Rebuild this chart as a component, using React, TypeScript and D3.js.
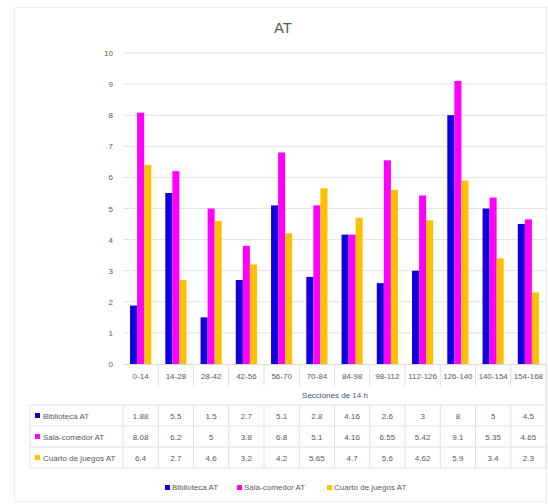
import React from "react";
import * as d3 from "d3";

const categories = ["0-14", "14-28", "28-42", "42-56", "56-70", "70-84", "84-98", "98-112", "112-126", "126-140", "140-154", "154-168"];
const biblioteca = [1.88, 5.5, 1.5, 2.7, 5.1, 2.8, 4.16, 2.6, 3, 8, 5, 4.5];
const salaComedor = [8.08, 6.2, 5, 3.8, 6.8, 5.1, 4.16, 6.55, 5.42, 9.1, 5.35, 4.65];
const cuartoJuegos = [6.4, 2.7, 4.6, 3.2, 4.2, 5.65, 4.7, 5.6, 4.62, 5.9, 3.4, 2.3];
const seriesNames = ["Biblioteca AT", "Sala-comedor AT", "Cuarto de juegos AT"];
const seriesColors = ["#1000DC", "#FF00FF", "#FFC000"];
const yTicks = [0, 1, 2, 3, 4, 5, 6, 7, 8, 9, 10];
const chartTitle = "AT";
const axisTitle = "Secciones de 14 h";

const W = 548;
const H = 504;
const FONT = "'Liberation Sans Narrow', 'Arial Narrow', 'Liberation Sans', sans-serif";
const TXT = "#595959";

export default function App() {
  const series = [biblioteca, salaComedor, cuartoJuegos];
  const x0 = 123, x1 = 546;
  const x = d3.scaleBand<string>().domain(categories).range([x0, x1]).paddingInner(0.4).paddingOuter(0.2);
  const band = d3.scaleBand<string>().domain(categories).range([x0, x1]);
  const inner = d3.scaleBand<number>().domain([0, 1, 2]).range([0, x.bandwidth()]);
  const y = d3.scaleLinear().domain([0, 10]).range([364, 53]);

  const tableTop = 405;
  const rowH = 21;
  const tableLeft = 30;

  return (
    <svg width={W} height={H} style={{ position: "absolute", left: 0, top: 0, background: "#fff" }} fontFamily={FONT}>
      <rect x={14.5} y={7.5} width={532} height={494} fill="#fff" stroke="#ececec" />
      <text x={283} y={33} textAnchor="middle" fontSize={15} fill={TXT}>{chartTitle}</text>

      {yTicks.map((t) => (
        <g key={t}>
          {t > 0 && <line x1={x0} x2={x1} y1={y(t)} y2={y(t)} stroke="#e3e3e3" />}
          <text x={113} y={y(t) + 3} textAnchor="end" fontSize={8} fill={TXT}>{t}</text>
        </g>
      ))}

      {series.map((vals, si) =>
        vals.map((v, ci) => (
          <rect
            key={`${si}-${ci}`}
            x={(x(categories[ci]) ?? 0) + (inner(si) ?? 0)}
            y={y(v)}
            width={inner.bandwidth()}
            height={y(0) - y(v)}
            fill={seriesColors[si]}
          />
        ))
      )}

      <line x1={x0} x2={x1} y1={y(0) + 0.5} y2={y(0) + 0.5} stroke="#d9d9d9" />

      {/* category row and column separators */}
      {categories.map((c, i) => (
        <g key={c}>
          <text x={(band(c) ?? 0) + band.bandwidth() / 2} y={379} textAnchor="middle" fontSize={8} fill={TXT}>{c}</text>
          {i > 0 && <line x1={band(c)} x2={band(c)} y1={364} y2={386} stroke="#e0e0e0" />}
          <line x1={band(c)} x2={band(c)} y1={tableTop} y2={tableTop + rowH * 3} stroke="#e0e0e0" />
        </g>
      ))}
      <line x1={x1} x2={x1} y1={364} y2={tableTop + rowH * 3} stroke="#e0e0e0" />
      <text x={335} y={398} textAnchor="middle" fontSize={8} fill="#44546A">{axisTitle}</text>

      {[0, 1, 2, 3].map((r) => (
        <line key={r} x1={tableLeft} x2={x1} y1={tableTop + r * rowH} y2={tableTop + r * rowH} stroke="#e0e0e0" />
      ))}
      <line x1={tableLeft} x2={tableLeft} y1={tableTop} y2={tableTop + rowH * 3} stroke="#e0e0e0" />

      {series.map((vals, si) => (
        <g key={si}>
          <rect x={35} y={tableTop + si * rowH + 8} width={5} height={5} fill={seriesColors[si]} />
          <text x={43} y={tableTop + si * rowH + 14} fontSize={8} fill={TXT}>{seriesNames[si]}</text>
          {vals.map((v, ci) => (
            <text key={ci} x={(band(categories[ci]) ?? 0) + band.bandwidth() / 2} y={tableTop + si * rowH + 14} textAnchor="middle" fontSize={8} fill={TXT}>
              {v}
            </text>
          ))}
        </g>
      ))}

      {/* legend */}
      {[165, 237, 327].map((lx, si) => (
        <g key={si}>
          <rect x={lx} y={485} width={5} height={5} fill={seriesColors[si]} />
          <text x={lx + 7} y={490} fontSize={8} fill={TXT}>{seriesNames[si]}</text>
        </g>
      ))}
    </svg>
  );
}
